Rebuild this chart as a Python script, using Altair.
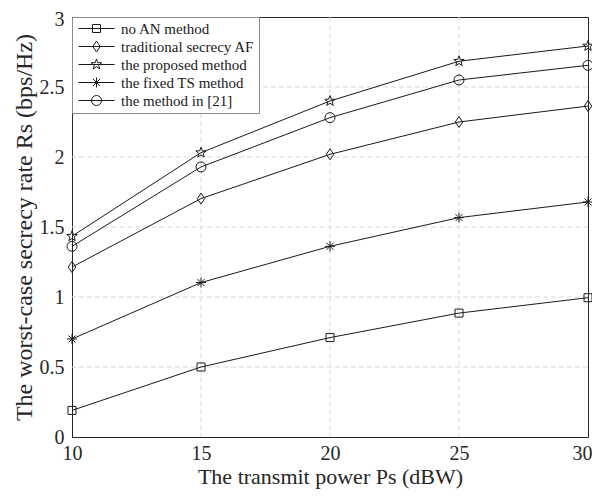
import altair as alt
import pandas as pd
import math

power = [10, 15, 20, 25, 30]
series_names = ["no AN method", "traditional secrecy AF", "the proposed method",
                "the fixed TS method", "the method in [21]"]
no_an = [0.19, 0.50, 0.71, 0.885, 0.995]
trad_af = [1.214, 1.703, 2.019, 2.25, 2.364]
proposed = [1.434, 2.031, 2.40, 2.684, 2.793]
fixed_ts = [0.70, 1.103, 1.362, 1.567, 1.679]
method21 = [1.362, 1.929, 2.281, 2.55, 2.655]
y_ticks = [0, 0.5, 1, 1.5, 2, 2.5, 3]
x_grid = [15, 20, 25]
y_grid = [0.5, 1, 1.5, 2, 2.5]

values = [no_an, trad_af, proposed, fixed_ts, method21]
rows = []
for name, vals in zip(series_names, values):
    for p, v in zip(power, vals):
        rows.append({"power": p, "rate": v, "series": name})
df = pd.DataFrame(rows)

# marker paths (unit box), centred at cx
def square(cx=0):
    return f"M{cx-0.8},-0.8H{cx+0.8}V0.8H{cx-0.8}Z"

def diamond(cx=0):
    return f"M{cx},-1.1L{cx+0.75},0L{cx},1.1L{cx-0.75},0Z"

def star(cx=0):
    pts = []
    for i in range(10):
        r = 1.1 if i % 2 == 0 else 0.45
        a = -math.pi / 2 + i * math.pi / 5
        pts.append((cx + r * math.cos(a), r * math.sin(a)))
    return "M" + "L".join(f"{x:.3f},{y:.3f}" for x, y in pts) + "Z"

def asterisk(cx=0):
    return (f"M{cx-1},0H{cx+1}M{cx},-1V1"
            f"M{cx-0.7},-0.7L{cx+0.7},0.7M{cx-0.7},0.7L{cx+0.7},-0.7")

def circle(cx=0):
    return f"M{cx+1},0A1,1 0 1,1 {cx-1},0A1,1 0 1,1 {cx+1},0Z"

makers = [square, diamond, star, asterisk, circle]
marker_paths = [m() for m in makers]
mc = 2.6
legend_paths = [f"M-1,0H6.2" + m(mc) for m in makers]

font = "Times New Roman, Liberation Serif, serif"
ink = "#1a1a1a"
x_scale = alt.Scale(domain=[10, 30], nice=False)
y_scale = alt.Scale(domain=[0, 3], nice=False)
x_enc = alt.X("power:Q", scale=x_scale,
              axis=alt.Axis(title="The transmit power Ps (dBW)", values=power,
                            format="d", labelPadding=6, titlePadding=3,
                            labelFlush=False, grid=False, titleFontSize=22,
                            labelAlign={"condition": {"test": "datum.value == 30", "value": "right"},
                                        "value": "center"},
                            labelOffset={"condition": {"test": "datum.value == 30", "value": 4},
                                         "value": 0}))
y_enc = alt.Y("rate:Q", scale=y_scale,
              axis=alt.Axis(title="The worst-case secrecy rate Rs (bps/Hz)",
                            values=y_ticks, format="~g", labelFlush=False,
                            labelPadding=8, titlePadding=3, grid=False, titleFontSize=24,
                            labelOffset={"condition": {"test": "datum.value == 3", "value": 2},
                                         "value": 0}))

gx = alt.Chart(pd.DataFrame({"g": x_grid})).mark_rule(
    color="#d9d9d9", strokeDash=[5, 3], strokeWidth=1).encode(x=alt.X("g:Q", scale=x_scale))
gy = alt.Chart(pd.DataFrame({"g": y_grid})).mark_rule(
    color="#d9d9d9", strokeDash=[5, 3], strokeWidth=1).encode(y=alt.Y("g:Q", scale=y_scale))

base = alt.Chart(df)
lines = base.mark_line(color=ink, strokeWidth=1).encode(
    x=x_enc, y=y_enc, detail="series:N")
points = base.mark_point(filled=False, color=ink, strokeWidth=1, size=100, opacity=1).encode(
    x="power:Q", y="rate:Q",
    shape=alt.Shape("series:N", scale=alt.Scale(domain=series_names, range=marker_paths),
                    legend=None))
leg = base.transform_filter("false").mark_point(filled=False, color=ink, strokeWidth=1, size=100).encode(
    x="power:Q", y="rate:Q",
    shape=alt.Shape("series:N", scale=alt.Scale(domain=series_names, range=legend_paths),
                    legend=alt.Legend(title=None, orient="top-left", offset=0,
                                      symbolSize=100, labelOffset=30,
                                      symbolStrokeColor=ink, symbolFillColor="transparent",
                                      symbolStrokeWidth=1, symbolOpacity=1,
                                      fillColor="white", strokeColor="#8a8a8a",
                                      padding=4, rowPadding=2,
                                      labelFont=font, labelFontSize=15, labelColor=ink)))

chart = alt.layer(gx, gy, lines, points, leg).resolve_scale(shape="independent").properties(
    width=516, height=420,
    autosize=alt.AutoSizeParams(type="none"),
    padding={"left": 64, "top": 9, "right": 4, "bottom": 53},
).configure_view(stroke="#262626", strokeWidth=1).configure_axis(
    labelFont=font, titleFont=font, labelFontSize=20,
    labelColor="#262626", titleColor="#262626", titleFontWeight="normal",
    domainColor="#262626", ticks=False,
)

chart.save("out.html", embed_options={"renderer": "svg", "actions": False})
